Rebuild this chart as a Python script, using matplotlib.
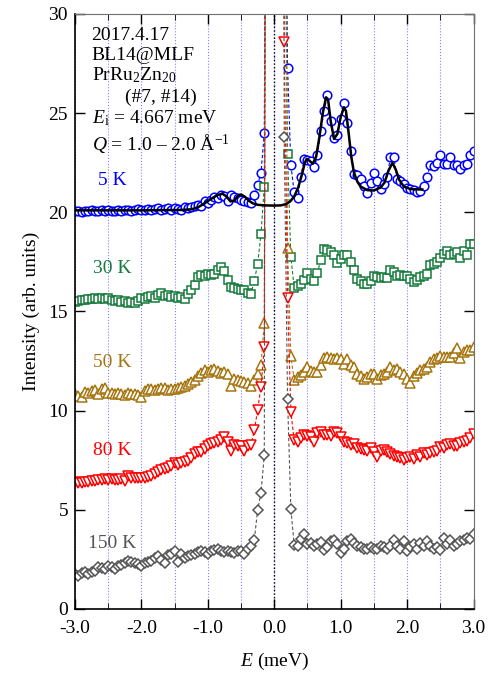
import matplotlib.pyplot as plt
import numpy as np

plt.rcParams["font.family"] = ["Liberation Serif", "DejaVu Serif"]
plt.rcParams["mathtext.fontset"] = "custom"
plt.rcParams["mathtext.rm"] = "Liberation Serif"
plt.rcParams["mathtext.it"] = "Liberation Serif:italic"
plt.rcParams["axes.unicode_minus"] = False

# energy transfer grid (meV), 0.05 meV steps
energy = np.round(np.linspace(-3.0, 3.0, 121), 2)

# 5 K
i5_left = [20.05, 20.05, 20.0, 20.05, 20.05, 20.1, 20.05, 20.05, 20.1, 20.05,
           20.1, 20.05, 20.05, 20.1, 20.05, 20.1, 20.1, 20.05, 20.1, 20.15,
           20.1, 20.1, 20.15, 20.1, 20.15, 20.2, 20.1, 20.15, 20.2, 20.1,
           20.2, 20.15, 20.1, 20.25, 20.2, 20.25, 20.3, 20.35, 20.3, 20.55,
           20.45, 20.6, 20.75, 20.7, 20.85, 20.8, 20.55, 20.85, 20.75, 20.7,
           20.6, 20.55, 20.5, 20.45, 20.85, 21.4, 22.0, 24.0]
i5_peak = [60, 150, 220, 150, 70, 45]
i5_right = [27.3, 22.4, 21.0, 20.7, 21.8, 22.7, 22.65, 22.6, 22.3, 22.9,
            24.1, 25.1, 25.9, 24.6, 23.75, 23.9, 24.7, 25.5, 24.5, 23.1,
            21.95, 21.9, 21.7, 21.35, 20.95, 21.5, 22.0, 21.6, 21.2, 21.45,
            21.8, 22.8, 22.8, 21.7, 21.6, 21.45, 21.25, 21.2, 21.15, 21.05,
            21.1, 21.35, 21.8, 22.4, 22.35, 22.5, 22.9, 22.45, 22.45, 22.8,
            22.4, 22.4, 22.2, 22.4, 22.45, 22.9, 23.1]

# 30 K
i30_left = [15.5, 15.55, 15.6, 15.6, 15.65, 15.65, 15.7, 15.65, 15.7, 15.65,
            15.7, 15.6, 15.55, 15.6, 15.5, 15.55, 15.45, 15.5, 15.45, 15.55,
            15.7, 15.65, 15.75, 15.8, 15.7, 15.85, 15.95, 15.8, 15.85, 15.75,
            15.8, 15.7, 15.75, 15.65, 15.9, 16.1, 16.35, 16.75, 16.85, 16.8,
            16.9, 16.85, 16.9, 17.1, 17.25, 17.05, 16.6, 16.25, 16.2, 16.15,
            16.1, 16.1, 15.95, 15.9, 16.55, 17.4, 18.9, 21.3]
i30_peak = [70, 180, 260, 180, 80, 45]
i30_right = [22.95, 17.75, 16.2, 16.3, 16.4, 16.6, 16.95, 16.65, 16.55, 16.95,
             17.6, 18.15, 18.1, 18.0, 17.85, 17.45, 17.65, 17.85, 17.85, 17.5,
             17.1, 16.65, 16.55, 16.4, 16.4, 16.55, 16.8, 16.75, 16.7, 16.75,
             16.7, 17.1, 17.0, 16.8, 16.85, 16.8, 16.8, 16.65, 16.5, 16.6,
             16.75, 16.8, 16.9, 17.35, 17.4, 17.5, 17.7, 17.9, 18.05, 17.85,
             17.9, 18.0, 17.7, 18.05, 17.85, 18.4, 18.4]

# 50 K
i50_left = [10.85, 10.75, 10.7, 10.95, 10.9, 11.0, 11.05, 10.85, 11.1, 11.15,
            10.9, 10.9, 10.85, 10.9, 10.85, 10.8, 10.9, 10.85, 10.85, 10.8,
            10.7, 11.0, 11.1, 11.1, 11.05, 11.1, 11.15, 11.15, 11.05, 11.1,
            11.1, 11.15, 11.2, 11.25, 11.35, 11.45, 11.55, 11.75, 11.9, 12.05,
            11.95, 12.05, 12.1, 12.0, 11.9, 11.95, 11.85, 11.25, 11.6, 11.55,
            11.5, 11.45, 11.4, 11.25, 11.55, 11.85, 12.3, 14.4]
i50_peak = [80, 200, 280, 200, 90, 45]
i50_right = [18.2, 12.75, 11.55, 11.7, 11.8, 11.95, 12.2, 12.0, 11.95, 11.95,
             12.3, 12.65, 12.7, 12.65, 12.6, 12.65, 12.6, 12.35, 12.6, 12.3,
             12.2, 11.85, 11.75, 11.6, 11.7, 11.85, 11.85, 11.6, 11.8, 11.85,
             11.95, 12.2, 12.05, 12.1, 11.95, 11.85, 11.6, 11.4, 11.75, 11.9,
             12.05, 12.1, 12.2, 12.45, 12.6, 12.65, 12.75, 12.7, 12.7, 12.7,
             12.9, 13.15, 12.65, 12.95, 13.05, 13.05, 13.2]

# 80 K
i80_left = [6.4, 6.35, 6.35, 6.4, 6.4, 6.45, 6.45, 6.5, 6.5, 6.55,
            6.5, 6.55, 6.5, 6.5, 6.55, 6.45, 6.7, 6.6, 6.6, 6.6,
            6.6, 6.6, 6.65, 6.7, 6.8, 6.9, 7.0, 7.05, 7.1, 7.2,
            7.35, 7.25, 7.35, 7.4, 7.45, 7.6, 7.8, 7.9, 7.9, 8.05,
            8.2, 8.3, 8.35, 8.4, 8.5, 8.65, 8.4, 7.95, 8.25, 8.2,
            8.2, 7.95, 8.2, 8.25, 9.0, 10.05, 11.2, 13.2]
i80_peak = [90, 220, 300, 220, 100]
i80_right = [28.6, 15.7, 9.95, 8.5, 8.4, 8.6, 8.75, 8.7, 8.65, 8.4,
             8.85, 8.9, 8.75, 8.75, 8.7, 8.9, 8.85, 8.65, 8.4, 8.35,
             8.25, 8.3, 8.1, 8.05, 8.0, 7.95, 8.1, 7.9, 7.65, 7.95,
             8.0, 7.9, 7.8, 7.7, 7.65, 7.6, 7.5, 7.6, 7.65, 7.55,
             7.75, 7.65, 7.85, 7.75, 7.85, 7.9, 7.95, 8.15, 8.1, 8.25,
             8.3, 8.2, 8.2, 8.35, 8.4, 8.45, 8.6, 8.8]

# 150 K
i150_left = [1.75, 1.65, 1.8, 1.85, 1.75, 1.85, 1.9, 2.1, 2.05, 2.0,
             2.15, 2.1, 2.0, 2.15, 2.2, 2.3, 2.4, 2.35, 2.3, 2.25,
             2.15, 2.3, 2.35, 2.4, 2.55, 2.65, 2.45, 2.3, 2.7, 2.75,
             2.9, 2.35, 2.75, 2.55, 2.65, 2.7, 2.75, 2.85, 2.9, 2.85,
             2.75, 2.9, 2.95, 3.05, 2.9, 2.85, 2.9, 2.85, 2.8, 2.9,
             2.9, 2.75, 3.05, 3.2, 3.5, 5.0, 5.85, 7.75]
i150_peak = [100, 250, 320, 250, 110]
i150_right = [23.8, 10.6, 5.05, 3.25, 3.2, 3.55, 3.8, 3.3, 3.35, 3.2,
              3.3, 3.4, 2.95, 3.15, 3.45, 3.5, 3.3, 2.8, 3.05, 3.45,
              3.55, 3.35, 3.2, 3.15, 3.05, 3.0, 3.15, 3.05, 3.05, 3.2,
              3.15, 3.05, 3.2, 3.5, 3.2, 3.05, 3.45, 2.9, 3.15, 3.3,
              3.05, 3.35, 3.2, 3.45, 3.2, 3.05, 3.15, 2.95, 3.6, 3.3,
              3.5, 3.2, 3.3, 3.45, 3.5, 3.6, 3.55, 3.8]

# CEF fit for the 5 K data
fit_e = [-3.0, -2.0, -1.4, -1.25, -1.15, -1.05, -0.95, -0.85, -0.78, -0.72,
         -0.66, -0.6, -0.55, -0.5, -0.44, -0.38, -0.32, -0.25, -0.15, 0.0,
         0.1, 0.18, 0.24, 0.3, 0.36, 0.42, 0.46, 0.49, 0.53, 0.58,
         0.63, 0.68, 0.73, 0.78, 0.81, 0.85, 0.9, 0.95, 1.0, 1.05,
         1.08, 1.12, 1.16, 1.2, 1.25, 1.3, 1.4, 1.5, 1.6, 1.66,
         1.72, 1.78, 1.83, 1.88, 1.95, 2.05, 2.23]
fit_i = [20.1, 20.1, 20.12, 20.15, 20.25, 20.45, 20.68, 20.88, 20.94, 20.8,
         20.55, 20.6, 20.82, 20.9, 20.78, 20.58, 20.45, 20.38, 20.35, 20.34,
         20.35, 20.42, 20.55, 20.8, 21.25, 21.95, 22.5, 22.7, 22.6, 22.45,
         22.8, 23.8, 25.0, 25.8, 25.7, 24.6, 23.7, 23.95, 24.8, 25.3,
         25.1, 24.0, 22.8, 22.0, 21.55, 21.3, 21.12, 21.1, 21.25, 21.5,
         22.1, 22.5, 22.15, 21.65, 21.3, 21.17, 21.15]

temps = ["5 K", "30 K", "50 K", "80 K", "150 K"]
colors = ["#0000ff", "#157a3a", "#a5750f", "#ff0000", "#555555"]
markers = ["o", "s", "^", "v", "D"]
label_y = [21.6, 17.15, 12.45, 8.0, 3.3]
series = [
    i5_left + i5_peak + i5_right,
    i30_left + i30_peak + i30_right,
    i50_left + i50_peak + i50_right,
    i80_left + i80_peak + i80_right,
    i150_left + i150_peak + i150_right,
]

fig = plt.figure(figsize=(4.88, 6.73), dpi=100)
ax = fig.add_axes([0.1537, 0.0951, 0.8166, 0.8841])

for e in np.arange(-3.0, 3.01, 0.5):
    ax.axvline(e, color="#8080ff", linestyle=":", linewidth=0.8, zorder=0)
ax.axvline(0.0, color="black", linestyle=":", linewidth=1.0, zorder=0)

for temp, col, mk, ly, vals in zip(temps, colors, markers, label_y, series):
    ms = {"o": 6.2, "s": 6.0, "^": 7.0, "v": 7.0, "D": 5.6}[mk]
    ax.plot(energy, vals, linestyle=(0, (3, 2)), linewidth=0.8, color=col,
            marker=mk, markersize=ms, markerfacecolor="white",
            markeredgecolor=col, markeredgewidth=1.1)
    ax.text(-2.44, ly, temp, color=col, fontsize=14, ha="center", va="center")

ax.plot(fit_e, fit_i, color="black", linewidth=1.8, zorder=5)

ax.set_xlim(-3.0, 3.0)
ax.set_ylim(0, 30)
ax.set_xticks(np.arange(-3.0, 3.01, 1.0))
ax.set_xticklabels(["-3.0", "-2.0", "-1.0", "0.0", "1.0", "2.0", "3.0"])
ax.set_xticks(np.arange(-2.5, 3.0, 1.0), minor=True)
ax.set_yticks([0, 5, 10, 15, 20, 25, 30])
ax.tick_params(axis="both", which="major", direction="in", length=7,
               width=1.0, labelsize=14, top=True, right=True)
ax.tick_params(axis="x", which="minor", direction="in", length=4,
               top=True, bottom=True)
ax.tick_params(axis="x", pad=8)
ax.tick_params(axis="y", pad=5)
for side in ["top", "right"]:
    ax.spines[side].set_color("#707070")
ax.spines["left"].set_linewidth(1.2)
ax.spines["bottom"].set_linewidth(1.2)

ax.set_xlabel(r"$E$ (meV)", fontsize=14, labelpad=10)
ax.set_ylabel("Intensity (arb. units)", fontsize=14, labelpad=6)

ax.text(-2.75, 28.7, "2017.4.17", fontsize=14, va="baseline")
ax.text(-2.75, 27.69, "BL14@MLF", fontsize=14, va="baseline")
ax.text(-2.75, 26.65, r"PrRu$_2$Zn$_{20}$", fontsize=14, va="baseline")
ax.text(-2.25, 25.56, "(#7, #14)", fontsize=14, va="baseline")
ax.text(-2.75, 24.5, r"$E_{\mathrm{i}}$ = 4.667 meV", fontsize=14, va="baseline")
ax.text(-2.75, 23.09, r"$Q$ = 1.0 – 2.0 Å$^{\mathrm{-1}}$", fontsize=14,
        va="baseline")

plt.savefig("out.png", dpi=100)
plt.close(fig)
